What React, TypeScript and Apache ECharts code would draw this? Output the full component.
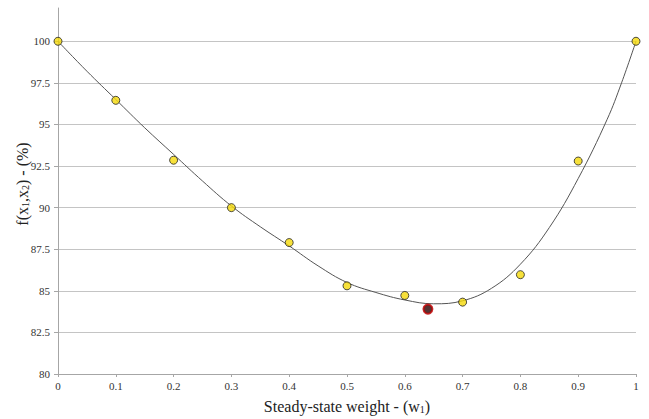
import React, { useEffect, useRef } from "react";
import * as echarts from "echarts";

const xTicks = [0, 0.1, 0.2, 0.3, 0.4, 0.5, 0.6, 0.7, 0.8, 0.9, 1];
const measuredW = [0, 0.1, 0.2, 0.3, 0.4, 0.5, 0.6, 0.7, 0.8, 0.9, 1];
const measuredF = [100, 96.45, 92.85, 90.0, 87.9, 85.3, 84.72, 84.32, 85.97, 92.8, 100];
const optimumW = [0.64];
const optimumF = [83.9];
const fitW = [0, 0.05, 0.1, 0.15, 0.2, 0.25, 0.3, 0.35, 0.4, 0.45, 0.5, 0.55, 0.6, 0.65, 0.7, 0.75, 0.8, 0.85, 0.9, 0.95, 0.975, 1];
const fitF = [100, 98.2, 96.5, 94.8, 93.2, 91.6, 90.1, 88.85, 87.7, 86.5, 85.5, 84.9, 84.45, 84.22, 84.4, 85.15, 86.6, 88.8, 91.75, 95.3, 97.5, 100];

const FONT = "Liberation Serif";

export default function App() {
  const ref = useRef<HTMLDivElement>(null);
  useEffect(() => {
    if (!ref.current) return;
    const chart = echarts.init(ref.current, null, { renderer: "svg" });
    chart.setOption({
      animation: false,
      backgroundColor: "#ffffff",
      grid: { left: 58, right: 13, top: 8, bottom: 44 },
      xAxis: {
        type: "value",
        min: xTicks[0],
        max: xTicks[xTicks.length - 1],
        interval: 0.1,
        name: "Steady-state weight - (w{s|1})",
        nameLocation: "middle",
        nameGap: 24,
        nameMoveOverlap: false,
        nameTextStyle: {
          fontFamily: FONT,
          fontSize: 16,
          color: "#222",
          rich: { s: { fontFamily: FONT, fontSize: 10, color: "#222", verticalAlign: "bottom", padding: [6, 0, 0, 0] } },
        },
        axisLine: { lineStyle: { color: "#a6a6a6", width: 1 } },
        axisTick: { show: true, length: 3, lineStyle: { color: "#a6a6a6" } },
        axisLabel: {
          fontFamily: FONT,
          fontSize: 11,
          color: "#333",
          margin: 6,
          formatter: (v: number) => String(Math.round(v * 10) / 10),
        },
        splitLine: { show: false },
      },
      yAxis: {
        type: "value",
        min: 80,
        max: 102,
        interval: 2.5,
        name: "f(x{s|1},x{s|2}) - (%)",
        nameLocation: "middle",
        nameGap: 28,
        nameMoveOverlap: false,
        nameTextStyle: {
          fontFamily: FONT,
          fontSize: 16,
          color: "#222",
          padding: [0, 0, 0, 14],
          rich: { s: { fontFamily: FONT, fontSize: 10, color: "#222", verticalAlign: "bottom", padding: [6, 0, 0, 0] } },
        },
        axisLine: { show: true, lineStyle: { color: "#a6a6a6", width: 1 } },
        axisTick: { show: true, length: 4, lineStyle: { color: "#a6a6a6" } },
        axisLabel: {
          fontFamily: FONT,
          fontSize: 11,
          color: "#333",
          margin: 8,
          showMaxLabel: false,
        },
        splitLine: { show: true, showMaxLine: false, lineStyle: { color: "#c4c4c4", width: 1 } },
      },
      series: [
        {
          type: "line",
          data: fitW.map((w, i) => [w, fitF[i]]),
          smooth: 0.4,
          showSymbol: false,
          lineStyle: { color: "#555555", width: 1 },
          z: 2,
        },
        {
          type: "scatter",
          data: measuredW.map((w, i) => [w, measuredF[i]]),
          symbolSize: 8,
          itemStyle: { color: "#f5d90a", borderColor: "#222", borderWidth: 1 },
          z: 3,
        },
        {
          type: "scatter",
          data: optimumW.map((w, i) => [w, optimumF[i]]),
          symbolSize: 9,
          itemStyle: { color: "#2a0000", borderColor: "#c00000", borderWidth: 2 },
          z: 4,
        },
      ],
    });
    return () => chart.dispose();
  }, []);
  return <div ref={ref} style={{ width: 649, height: 419, position: "absolute", left: 0, top: 0 }} />;
}
